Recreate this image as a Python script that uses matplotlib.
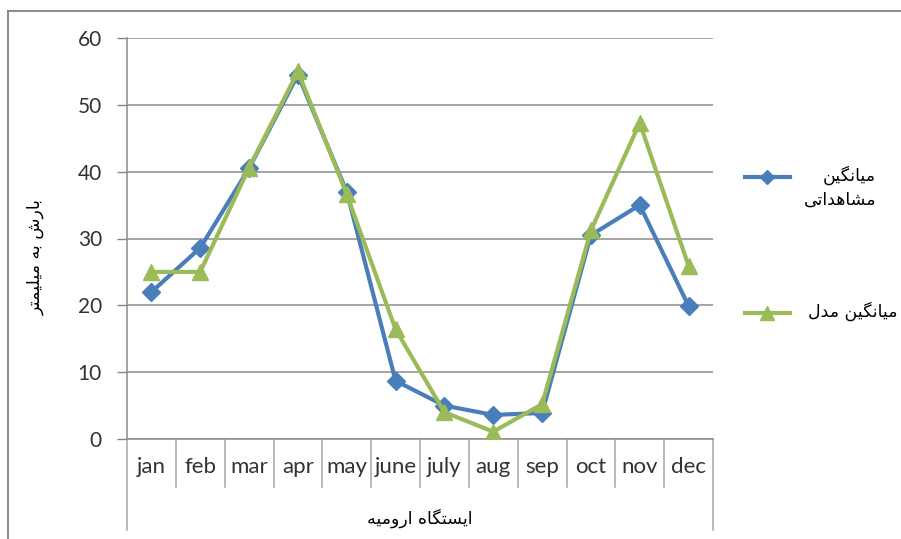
import matplotlib
matplotlib.use("Agg")
import matplotlib.pyplot as plt
from matplotlib.lines import Line2D
from matplotlib.patches import Rectangle
import matplotlib.transforms as mtransforms

months = ["jan", "feb", "mar", "apr", "may", "june", "july", "aug", "sep", "oct", "nov", "dec"]
observed = [22.0, 28.6, 40.5, 54.5, 37.0, 8.7, 5.0, 3.6, 3.9, 30.5, 35.0, 19.9]
model = [25.0, 25.0, 40.6, 55.0, 36.6, 16.4, 4.0, 1.1, 5.2, 31.2, 47.3, 25.9]
yticks = [0, 10, 20, 30, 40, 50, 60]

label_obs = "میانگین\nمشاهداتی"
label_mod = "میانگین مدل"
ylabel = "بارش به میلیمتر"
xlabel = "ایستگاه ارومیه"

# --- minimal Arabic/Persian shaping (presentation forms) + visual reordering ---
FORMS = {
    "\u0627": ("\uFE8D", "\uFE8E", None, None),
    "\u0628": ("\uFE8F", "\uFE90", "\uFE91", "\uFE92"),
    "\u062A": ("\uFE95", "\uFE96", "\uFE97", "\uFE98"),
    "\u062F": ("\uFEA9", "\uFEAA", None, None),
    "\u0631": ("\uFEAD", "\uFEAE", None, None),
    "\u0648": ("\uFEED", "\uFEEE", None, None),
    "\u0633": ("\uFEB1", "\uFEB2", "\uFEB3", "\uFEB4"),
    "\u0634": ("\uFEB5", "\uFEB6", "\uFEB7", "\uFEB8"),
    "\u0644": ("\uFEDD", "\uFEDE", "\uFEDF", "\uFEE0"),
    "\u0645": ("\uFEE1", "\uFEE2", "\uFEE3", "\uFEE4"),
    "\u0646": ("\uFEE5", "\uFEE6", "\uFEE7", "\uFEE8"),
    "\u0647": ("\uFEE9", "\uFEEA", "\uFEEB", "\uFEEC"),
    "\u06CC": ("\uFBFC", "\uFBFD", "\uFBFE", "\uFBFF"),
    "\u06AF": ("\uFB92", "\uFB93", "\uFB94", "\uFB95"),
}


def dual(c):
    return c in FORMS and FORMS[c][2] is not None


def joins(c):
    return c in FORMS


def shape_line(s):
    out = []
    for i, c in enumerate(s):
        if c not in FORMS:
            out.append(c)
            continue
        prev = s[i - 1] if i > 0 else ""
        nxt = s[i + 1] if i + 1 < len(s) else ""
        cp = dual(prev)
        cn = dual(c) and joins(nxt)
        iso, fin, ini, med = FORMS[c]
        if cp and cn:
            out.append(med)
        elif cp:
            out.append(fin)
        elif cn:
            out.append(ini)
        else:
            out.append(iso)
    return "".join(out)[::-1]


def fa(s):
    return "\n".join(shape_line(line) for line in s.split("\n"))


W, H = 901, 539
fig = plt.figure(figsize=(W / 100, H / 100), dpi=100)
fig.patch.set_facecolor("white")


def fx(px):
    return px / W


def fy(py):
    return 1 - py / H


# outer chart border
fig.add_artist(Rectangle((fx(8), fy(560)), fx(900), fy(11) - fy(560), transform=fig.transFigure,
                         fill=False, edgecolor="#8c8c8c", linewidth=1.5))

ax = fig.add_axes([fx(127), fy(439), fx(713) - fx(127), fy(38) - fy(439)])
x = list(range(len(months)))
blue = "#4A7EBB"
green = "#9BBB59"
ax.plot(x, observed, color=blue, linewidth=3.0, marker="D", markersize=9.5,
        markerfacecolor=blue, markeredgecolor=blue, zorder=3)
ax.plot(x, model, color=green, linewidth=3.0, marker="^", markersize=12,
        markerfacecolor=green, markeredgecolor=green, zorder=4)

ax.set_xlim(-0.5, len(months) - 0.5)
ax.set_ylim(0, 60)
ax.set_yticks(yticks)
ax.set_yticklabels([str(v) for v in yticks], fontsize=15, color="#333333", family=["Lato", "DejaVu Sans"])
ax.tick_params(axis="y", length=7, width=1, color="#868686", pad=11)
ax.grid(axis="y", color="#8c8c8c", linewidth=1.1)
ax.set_axisbelow(True)
for s in ["top", "right"]:
    ax.spines[s].set_visible(False)
ax.spines["left"].set_color("#8c8c8c")
ax.spines["bottom"].set_color("#8c8c8c")
ax.spines["left"].set_linewidth(1.1)
ax.spines["bottom"].set_linewidth(1.1)
ax.set_xticks([])

# multi-level category axis
trans = mtransforms.blended_transform_factory(ax.transData, ax.transAxes)
axh = 439 - 38
for i in range(len(months) + 1):
    edge = i - 0.5
    bottom = 530 if i in (0, len(months)) else 487
    ax.add_line(Line2D([edge, edge], [0, -(bottom - 439) / axh], transform=trans,
                       color="#a6a6a6", linewidth=1.1, clip_on=False))
for i, m in enumerate(months):
    ax.text(i, -(467 - 439) / axh, m, transform=trans, ha="center", va="center",
            fontsize=16, color="#333333", family=["Lato", "DejaVu Sans"])

ax.text(5.5, -(518 - 439) / axh, fa(xlabel), transform=trans, ha="center", va="center",
        fontsize=12.5, color="black", family="DejaVu Sans")

fig.text(fx(36), fy(257), fa(ylabel), rotation=90, ha="center", va="center",
         fontsize=12.5, color="black", family="DejaVu Sans")

# legend
fig.add_artist(Line2D([fx(745), fx(790)], [fy(177), fy(177)], transform=fig.transFigure,
                      color=blue, linewidth=3.0))
fig.add_artist(Line2D([fx(767)], [fy(177)], transform=fig.transFigure, color=blue,
                      marker="D", markersize=7.5, linestyle="none"))
fig.text(fx(876), fy(187), fa(label_obs), ha="right", va="center", multialignment="right",
         fontsize=12.5, color="black", family="DejaVu Sans", linespacing=1.4)

fig.add_artist(Line2D([fx(745), fx(790)], [fy(313), fy(313)], transform=fig.transFigure,
                      color=green, linewidth=3.0))
fig.add_artist(Line2D([fx(767)], [fy(313)], transform=fig.transFigure, color=green,
                      marker="^", markersize=9.5, linestyle="none"))
fig.text(fx(898), fy(311), fa(label_mod), ha="right", va="center",
         fontsize=12.5, color="black", family="DejaVu Sans")

fig.savefig("out.png", dpi=100)
